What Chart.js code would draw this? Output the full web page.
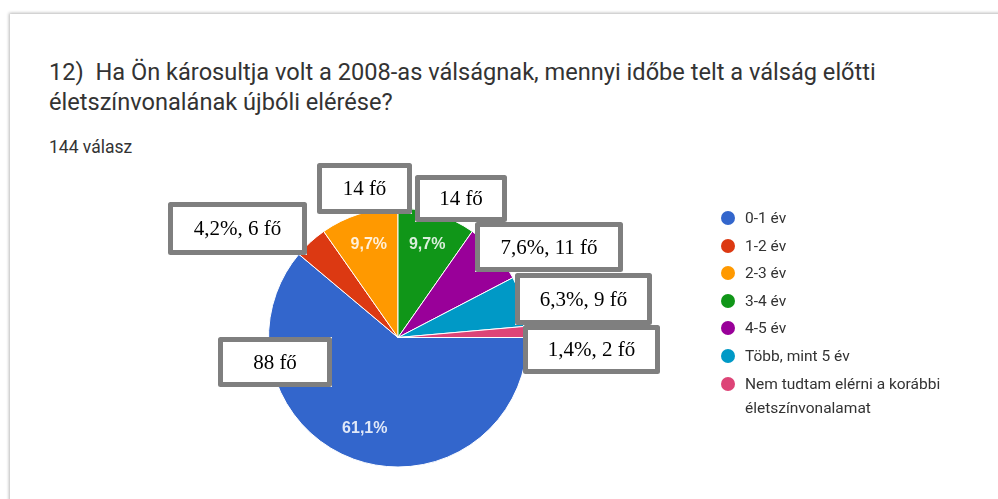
<!DOCTYPE html>
<html lang="hu">
<head>
<meta charset="utf-8">
<script src="https://cdn.jsdelivr.net/npm/chart.js@4.4.1/dist/chart.umd.min.js"></script>
<style>
  html, body { margin: 0; padding: 0; background: #fff; }
  body { width: 998px; height: 499px; position: relative; overflow: hidden; font-family: Roboto, Arial, sans-serif; }
  .card { position: absolute; left: 10px; top: 14px; width: 1010px; height: 520px; background: #fff;
          box-shadow: -1px -1px 3px rgba(0,0,0,0.28); }
  .title { position: absolute; left: 49px; top: 57px; font-size: 23.6px; line-height: 30px; color: #333; white-space: nowrap; }
  .count { position: absolute; left: 49px; top: 137px; font-size: 17.5px; color: #333; }
  #wrap { position: absolute; left: 0; top: 0; width: 998px; height: 499px; }
  .legend { position: absolute; left: 718px; top: 206px; font-family: Roboto, Arial, sans-serif; font-size: 15.5px; color: #333; }
  .legend div { position: relative; padding-left: 27px; line-height: 24px; margin-bottom: 3.6px; }
  .legend span { position: absolute; left: 3px; top: 5px; width: 14px; height: 14px; border-radius: 50%; }
</style>
</head>
<body>
<div class="card"></div>
<div class="title">12)&nbsp; Ha Ön károsultja volt a 2008-as válságnak, mennyi időbe telt a válság előtti<br>életszínvonalának újbóli elérése?</div>
<div class="count">144 válasz</div>
<div id="wrap"><canvas id="pie-chart" width="998" height="499"></canvas></div>
<div class="legend" id="legend"></div>
<script>
// Adatok
const labels = ["0-1 év", "1-2 év", "2-3 év", "3-4 év", "4-5 év", "Több, mint 5 év", "Nem tudtam elérni a korábbi életszínvonalamat"];
const legendLabels = ["0-1 év", "1-2 év", "2-3 év", "3-4 év", "4-5 év", "Több, mint 5 év", "Nem tudtam elérni a korábbi<br>életszínvonalamat"];
const counts = [88, 6, 14, 14, 11, 9, 2];
const percentTexts = ["61,1%", "4,2%", "9,7%", "9,7%", "7,6%", "6,3%", "1,4%"];
const colors = ["#3366cc", "#dc3912", "#ff9900", "#109618", "#990099", "#0099c6", "#dd4477"];

// Ráírt dobozok szövege (a képen utólag rárakott címkék)
const boxTexts = ["88 fő", "4,2%, 6 fő", "14 fő", "14 fő", "7,6%, 11 fő", "6,3%, 9 fő", "1,4%, 2 fő"];
const boxRects = [
  [218, 337, 114, 50],
  [168, 202, 139, 53],
  [317, 163, 95, 51],
  [415, 175, 92, 47],
  [475, 222, 148, 50],
  [515, 273, 137, 52],
  [523, 325, 137, 49],
];

// Jelmagyarázat
const legend = document.getElementById("legend");
legendLabels.forEach((l, i) => {
  const d = document.createElement("div");
  d.innerHTML = '<span style="background:' + colors[i] + '"></span>' + l;
  legend.appendChild(d);
});

// Százalékok a szeletekben
const sliceTextPlugin = {
  id: "sliceText",
  afterDatasetsDraw(chart) {
    const { ctx } = chart;
    const meta = chart.getDatasetMeta(0);
    const total = counts.reduce((a, b) => a + b, 0);
    ctx.save();
    ctx.font = "bold 16px 'Liberation Sans', Arial, sans-serif";
    ctx.fillStyle = "rgba(255,255,255,0.85)";
    ctx.textAlign = "center";
    ctx.textBaseline = "middle";
    meta.data.forEach((arc, i) => {
      if (counts[i] / total < 0.08) return;
      const p = arc.getProps(["x", "y", "startAngle", "endAngle", "outerRadius"], true);
      const mid = (p.startAngle + p.endAngle) / 2;
      const r = p.outerRadius * 0.75;
      ctx.fillText(percentTexts[i], p.x + Math.cos(mid) * r, p.y + Math.sin(mid) * r);
    });
    ctx.restore();
  },
};

// Szürke keretes dobozok
const boxPlugin = {
  id: "boxes",
  afterDraw(chart) {
    const { ctx } = chart;
    ctx.save();
    boxRects.forEach((b, i) => {
      const [x, y, w, h] = b;
      ctx.fillStyle = "#ffffff";
      ctx.fillRect(x, y, w, h);
      ctx.lineWidth = 5;
      ctx.lineJoin = "round";
      ctx.strokeStyle = "#7f7f7f";
      ctx.strokeRect(x + 2.5, y + 2.5, w - 5, h - 5);
      ctx.fillStyle = "#000";
      ctx.font = "21px 'Liberation Serif', 'Times New Roman', serif";
      ctx.textAlign = "center";
      ctx.textBaseline = "middle";
      ctx.fillText(boxTexts[i], x + w / 2, y + h / 2 + 1);
    });
    ctx.restore();
  },
};

new Chart(document.getElementById("pie-chart"), {
  type: "pie",
  data: {
    labels: labels,
    datasets: [{
      data: counts,
      backgroundColor: colors,
      borderColor: "#ffffff",
      borderWidth: 1,
    }],
  },
  options: {
    responsive: false,
    maintainAspectRatio: false,
    animation: false,
    rotation: 90,
    layout: { padding: { left: 268, right: 470, top: 207, bottom: 31 } },
    plugins: {
      legend: { display: false },
      tooltip: { enabled: false },
    },
  },
  plugins: [sliceTextPlugin, boxPlugin],
});
</script>
</body>
</html>
